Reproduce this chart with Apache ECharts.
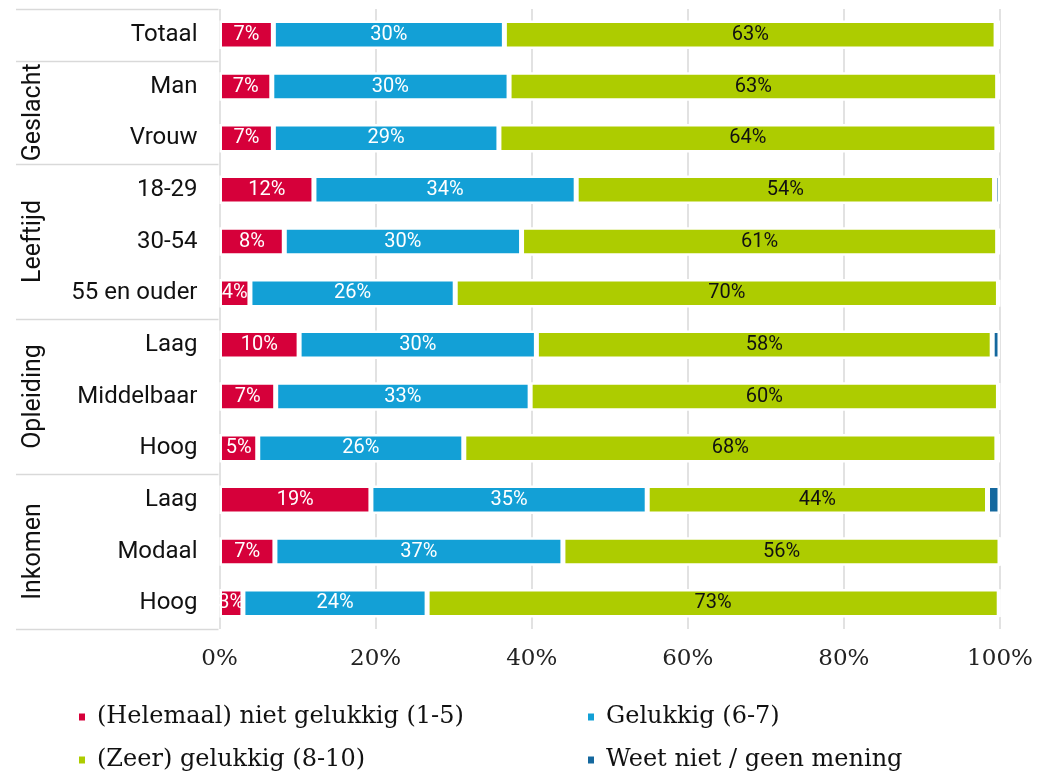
<!DOCTYPE html>
<html>
<head>
<meta charset="utf-8">
<script src="https://cdn.jsdelivr.net/npm/echarts@6/dist/echarts.min.js"></script>
<style>
  html, body { margin: 0; padding: 0; background: #fff; }
  #chart { width: 1038px; height: 771px; }
</style>
</head>
<body>
<div id="chart"></div>
<script>
// ---- data ----
const categories = ['Totaal', 'Man', 'Vrouw', '18-29', '30-54', '55 en ouder', 'Laag', 'Middelbaar', 'Hoog', 'Laag', 'Modaal', 'Hoog'];
const groups = [
  { name: 'Geslacht', from: 1, to: 2 },
  { name: 'Leeftijd', from: 3, to: 5 },
  { name: 'Opleiding', from: 6, to: 8 },
  { name: 'Inkomen', from: 9, to: 11 }
];
const seriesNames = ['(Helemaal) niet gelukkig (1-5)', 'Gelukkig (6-7)', '(Zeer) gelukkig (8-10)', 'Weet niet / geen mening'];
const nietGelukkig = [6.9, 6.7, 6.9, 12.1, 8.3, 3.9, 10.2, 7.2, 4.9, 19.4, 7.1, 3.0];
const gelukkig     = [29.6, 30.4, 28.9, 33.6, 30.4, 26.3, 30.4, 32.6, 26.4, 35.4, 36.9, 23.6];
const zeerGelukkig = [63.0, 62.6, 63.8, 53.6, 61.0, 69.6, 58.4, 60.0, 68.3, 43.6, 56.0, 73.3];
const weetNiet     = [0.5, 0.3, 0.4, 0.7, 0.3, 0.2, 1.0, 0.2, 0.4, 1.6, 0, 0.1];
const xTicks = [0, 20, 40, 60, 80, 100];

// ---- styles ----
const colors = ['#d6003a', '#13a0d6', '#adcc00', '#14689e'];
const labelColors = ['#ffffff', '#ffffff', '#111111', null];
const seriesData = [nietGelukkig, gelukkig, zeerGelukkig, weetNiet];

const chart = echarts.init(document.getElementById('chart'), null, { renderer: 'canvas' });

const series = seriesNames.map((name, i) => ({
  name: name,
  type: 'bar',
  stack: 'total',
  data: seriesData[i],
  barWidth: 28.5,
  itemStyle: { color: colors[i], borderColor: '#ffffff', borderWidth: 2.5 },
  label: {
    show: labelColors[i] !== null,
    position: 'inside',
    color: labelColors[i] || '#fff',
    fontFamily: 'Roboto',
    fontSize: 20,
    formatter: p => Math.round(p.value) + '%'
  },
  emphasis: { disabled: true },
  animation: false
}));

const legendPos = [
  { left: 72, top: 700 },
  { left: 581, top: 700 },
  { left: 72, top: 743 },
  { left: 581, top: 743 }
];

const option = {
  backgroundColor: '#ffffff',
  animation: false,
  color: colors,
  grid: { left: 219.5, right: 38, top: 9, bottom: 142, containLabel: false },
  xAxis: {
    type: 'value',
    min: xTicks[0],
    max: xTicks[xTicks.length - 1],
    interval: 20,
    axisLine: { show: false },
    axisTick: { show: false },
    splitLine: { show: true, lineStyle: { color: '#d9d9d9', width: 1.5 } },
    axisLabel: {
      formatter: '{value}%',
      fontFamily: 'DejaVu Serif',
      fontSize: 23,
      color: '#222222',
      margin: 19
    }
  },
  yAxis: {
    type: 'category',
    inverse: true,
    data: categories,
    axisLine: { show: false },
    axisTick: { show: false },
    axisLabel: {
      fontFamily: 'Roboto',
      fontSize: 24,
      color: '#111111',
      margin: 22
    }
  },
  legend: seriesNames.map((n, i) => ({
    data: [n],
    left: legendPos[i].left,
    top: legendPos[i].top,
    icon: 'rect',
    itemWidth: 8,
    itemHeight: 9,
    selectedMode: false,
    textStyle: {
      fontFamily: 'DejaVu Serif',
      fontSize: 24,
      color: '#111111',
      padding: [0, 0, 0, 6]
    }
  })),
  series: series
};

chart.setOption(option);

// ---- group labels and separator lines, placed from the axis scale ----
const y0 = chart.convertToPixel({ yAxisIndex: 0 }, 0);
const y1 = chart.convertToPixel({ yAxisIndex: 0 }, 1);
const band = y1 - y0;
const xLeftEdge = chart.convertToPixel({ xAxisIndex: 0 }, 0) - 1;
const boundaries = [0, 1, 3, 6, 9, 12];
const graphics = [];
boundaries.forEach(k => {
  const y = Math.round(y0 - band / 2 + k * band) + 0.5;
  graphics.push({
    type: 'line',
    shape: { x1: 16, y1: y, x2: xLeftEdge, y2: y },
    style: { stroke: '#d9d9d9', lineWidth: 1.5 },
    silent: true
  });
});
groups.forEach(g => {
  const cy = (chart.convertToPixel({ yAxisIndex: 0 }, g.from) + chart.convertToPixel({ yAxisIndex: 0 }, g.to)) / 2;
  graphics.push({
    type: 'text',
    x: 34,
    y: cy,
    rotation: Math.PI / 2,
    style: {
      text: g.name,
      fontFamily: 'Roboto',
      fontSize: 25,
      fill: '#111111',
      align: 'center',
      verticalAlign: 'middle'
    },
    silent: true
  });
});
chart.setOption({ graphic: graphics });
</script>
</body>
</html>
